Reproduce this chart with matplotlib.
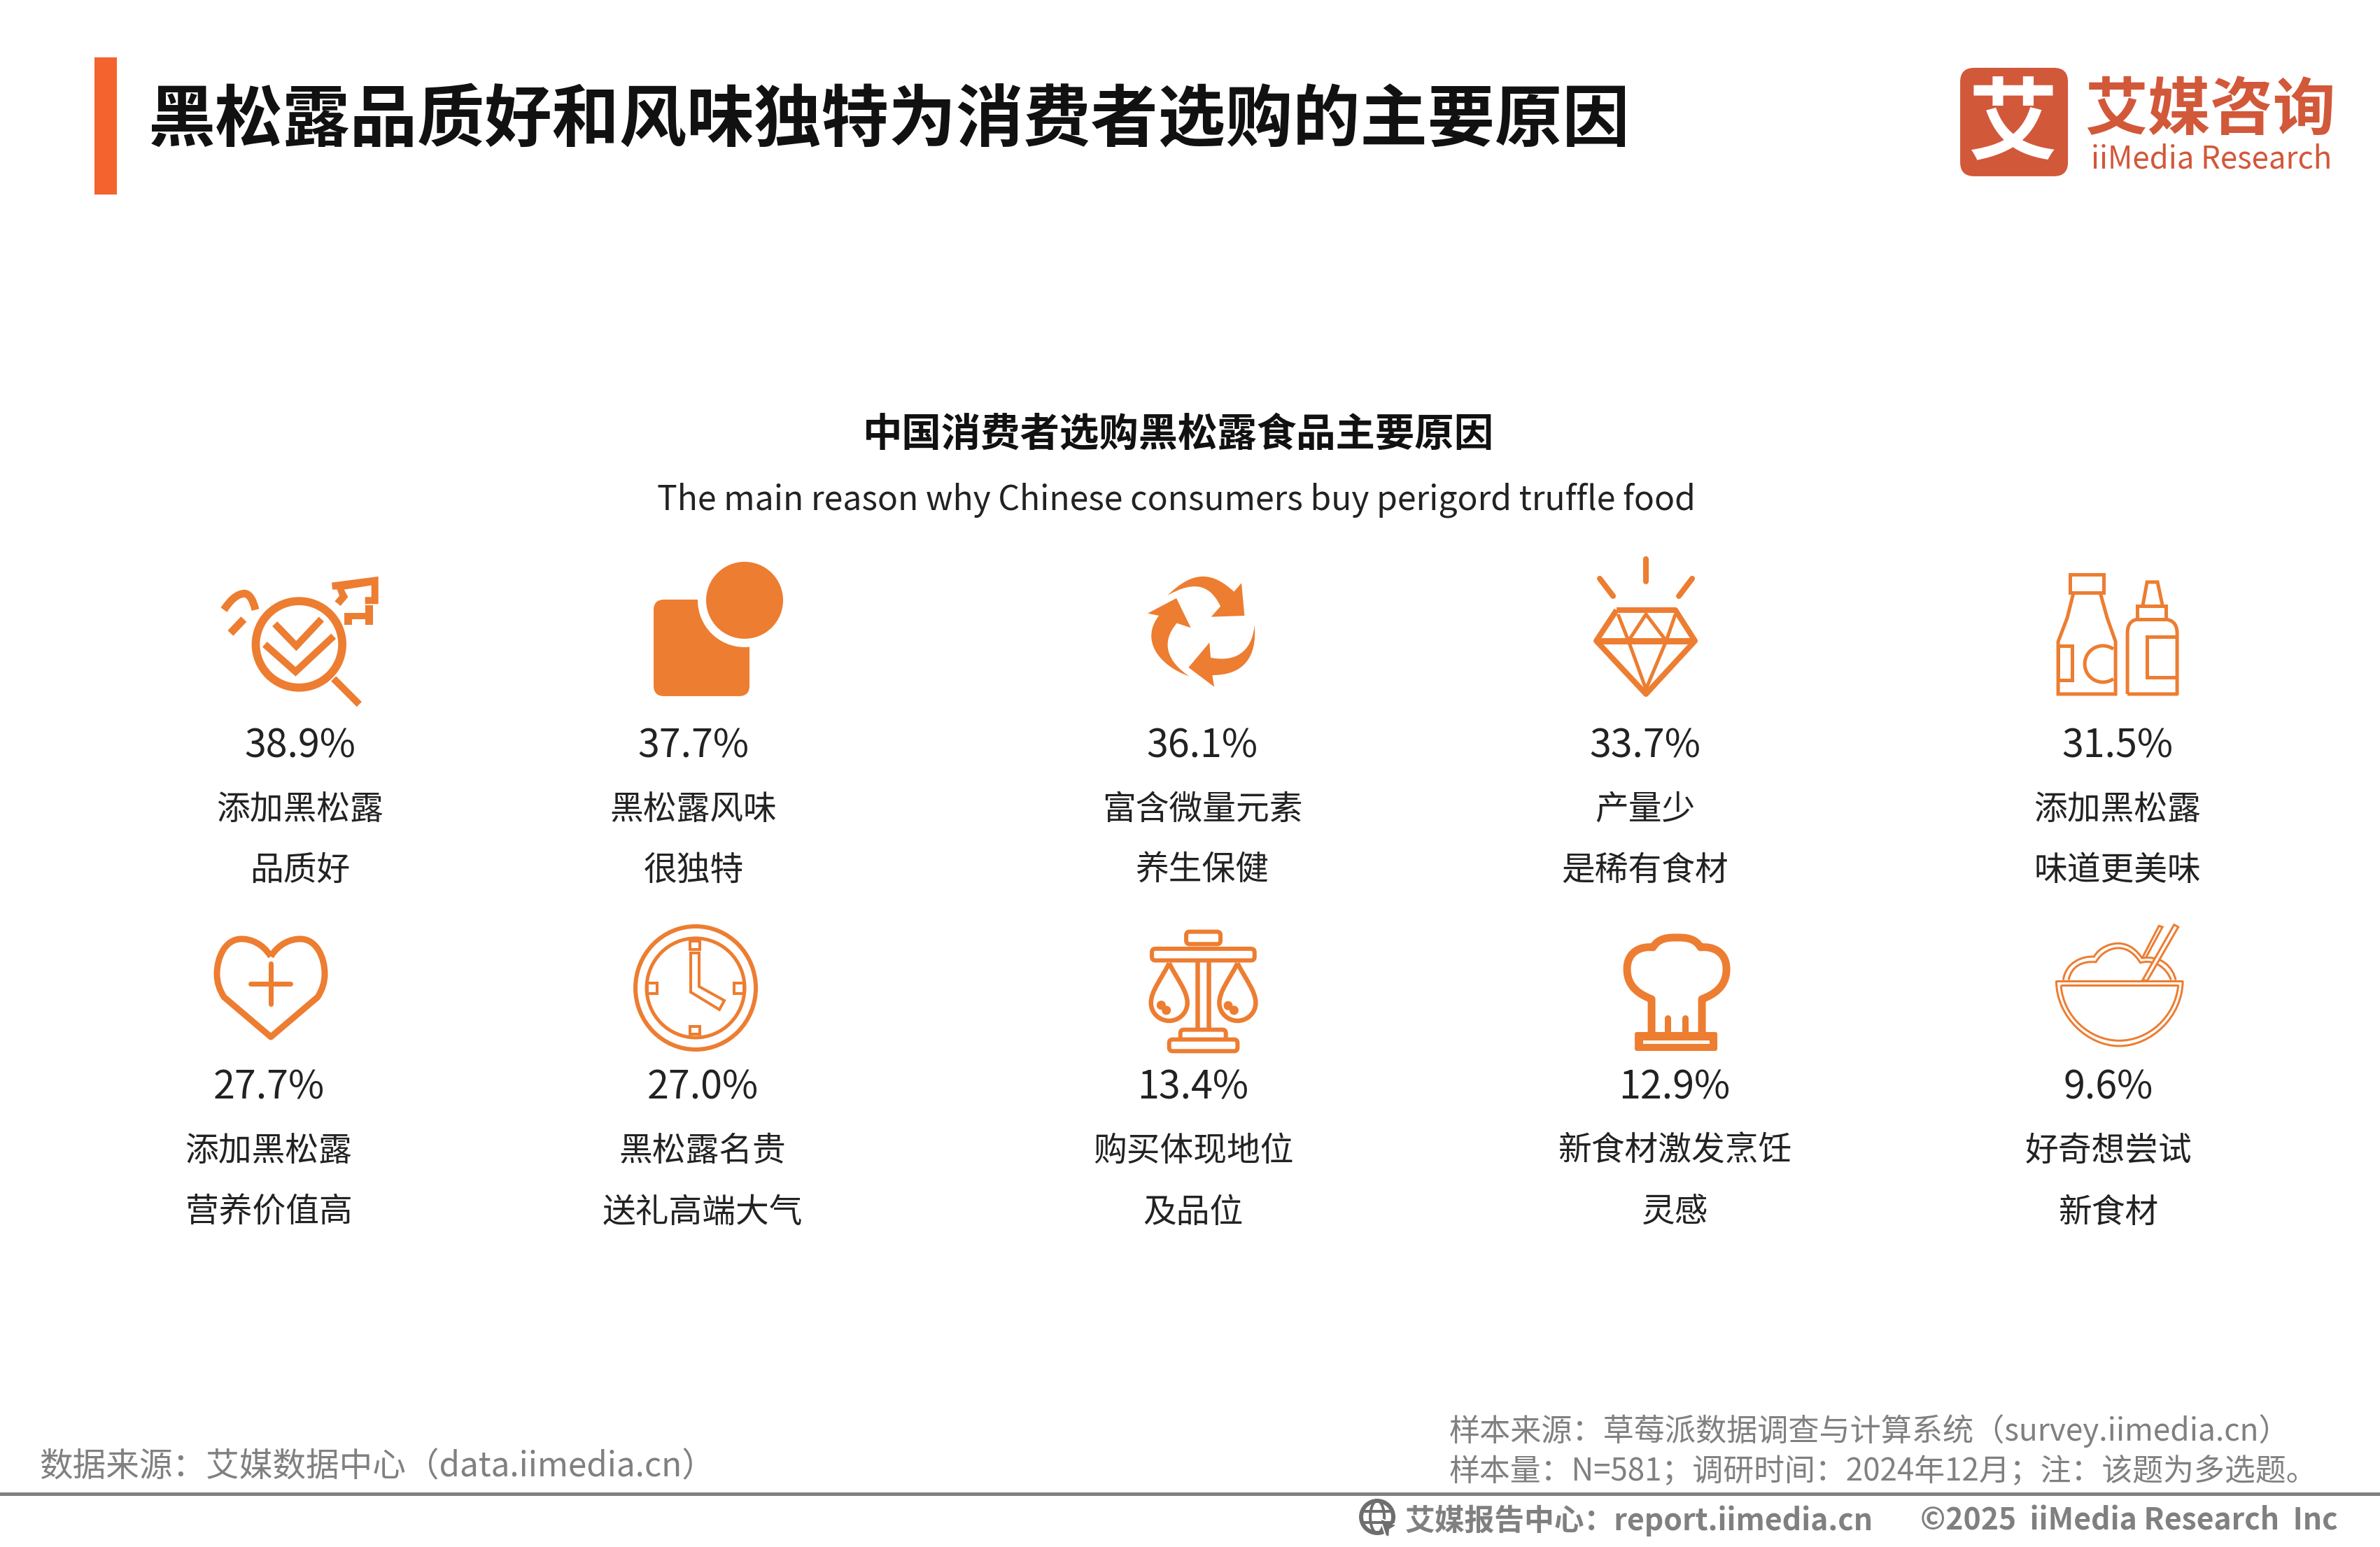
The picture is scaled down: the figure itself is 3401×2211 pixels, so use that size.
import matplotlib
matplotlib.use("Agg")
import matplotlib.pyplot as plt
from matplotlib.patches import Circle, Ellipse, Arc, FancyBboxPatch, PathPatch, Polygon, Rectangle
from matplotlib.path import Path

# chart values
title = "黑松露品质好和风味独特为消费者选购的主要原因"
chart_title = "中国消费者选购黑松露食品主要原因"
chart_subtitle = "The main reason why Chinese consumers buy perigord truffle food"

shares_top = [38.9, 37.7, 36.1, 33.7, 31.5]
labels_top_a = ["添加黑松露", "黑松露风味", "富含微量元素", "产量少", "添加黑松露"]
labels_top_b = ["品质好", "很独特", "养生保健", "是稀有食材", "味道更美味"]

shares_bottom = [27.7, 27.0, 13.4, 12.9, 9.6]
labels_bottom_a = ["添加黑松露", "黑松露名贵", "购买体现地位", "新食材激发烹饪", "好奇想尝试"]
labels_bottom_b = ["营养价值高", "送礼高端大气", "及品位", "灵感", "新食材"]

source_left = "数据来源：艾媒数据中心（data.iimedia.cn）"
source_right_1 = "样本来源：草莓派数据调查与计算系统（survey.iimedia.cn）"
source_right_2 = "样本量：N=581；调研时间：2024年12月；注：该题为多选题。"
footer_a = "艾媒报告中心：report.iimedia.cn"
footer_b = "©2025  iiMedia Research  Inc"

# layout
W, H = 3401, 2211
ORANGE = "#ED7D31"
LOGO = "#D2583A"
GREY = "#808080"
x_top = [429, 991, 1718, 2351, 3026]
x_bottom = [384, 1004, 1705, 2393, 3013]

plt.rcParams["font.family"] = ["Noto Sans CJK SC", "DejaVu Sans"]

fig = plt.figure(figsize=((W + 0.1) / 100, (H + 0.1) / 100), dpi=100)
ax = fig.add_axes([0, 0, 1, 1])
ax.set_xlim(0, W)
ax.set_ylim(H, 0)
ax.axis("off")


def lw(px):
    return px * 0.72


def line(pts, width=10, color=ORANGE, cap="butt", join="miter"):
    ax.plot([p[0] for p in pts], [p[1] for p in pts], color=color, lw=lw(width),
            solid_capstyle=cap, solid_joinstyle=join)


def curve(pts, codes, width=None, fill=False, color=ORANGE, face=None):
    # pts/codes go straight into a Path
    fc = face if face else (color if fill else "none")
    ax.add_patch(PathPatch(Path(pts, codes), fc=fc, ec=color if width else "none",
                           lw=lw(width) if width else 0, joinstyle="round"))


def rbox(x0, y0, x1, y1, r=6, width=6, fill="white"):
    ax.add_patch(FancyBboxPatch((x0, y0), x1 - x0, y1 - y0,
                                boxstyle=f"round,pad=0,rounding_size={r}",
                                fc=fill, ec=ORANGE, lw=lw(width)))


def zoomed(x0, y0, sx=3, sy=3):
    return lambda pts: [(x0 + p[0] / sx, y0 + p[1] / sy) for p in pts]


M, L, C3, C4, Z = Path.MOVETO, Path.LINETO, Path.CURVE3, Path.CURVE4, Path.CLOSEPOLY


# header
ax.add_patch(Rectangle((135, 82), 32, 196, fc="#F4622E", ec="none"))
ax.text(212, 173, title, fontsize=69.3, fontweight="bold", color="#111111", va="center", ha="left")

# logo
ax.add_patch(FancyBboxPatch((2801, 97), 154, 155, boxstyle="round,pad=0,rounding_size=20", fc=LOGO, ec="none"))
ax.text(2876, 181, "艾", fontsize=92, fontweight="bold", color="white", ha="center", va="center")
ax.text(3158, 158, "艾媒咨询", fontsize=64.5, fontweight="bold", color=LOGO, ha="center", va="center")
ax.text(3160, 227, "iiMedia Research", fontsize=31.5, fontweight="medium", color=LOGO, ha="center", va="center")

# chart heading
ax.text(1683, 622, chart_title, fontsize=40.6, fontweight="bold", color="#111111", ha="center", va="center")
ax.text(1681, 715, chart_subtitle, fontsize=34.6, color="#222222", ha="center", va="center")

# values and labels
for i in range(5):
    ax.text(x_top[i], 1067, f"{shares_top[i]}%", fontsize=40, color="#222222", ha="center", va="center")
    ax.text(x_top[i], 1157, labels_top_a[i], fontsize=34.4, color="#222222", ha="center", va="center")
    ax.text(x_top[i], 1244, labels_top_b[i], fontsize=34.4, color="#222222", ha="center", va="center")
    ax.text(x_bottom[i], 1555, f"{shares_bottom[i]}%", fontsize=40, color="#222222", ha="center", va="center")
    ax.text(x_bottom[i], 1645, labels_bottom_a[i], fontsize=34.4, color="#222222", ha="center", va="center")
    ax.text(x_bottom[i], 1733, labels_bottom_b[i], fontsize=34.4, color="#222222", ha="center", va="center")

# icon 1: magnifier and key
z = zoomed(300, 810)
ax.add_patch(Circle((427.3, 921), 61.8, fc="none", ec=ORANGE, lw=lw(11.7)))
line(z([(530, 480), (640, 590)]), 10)
line(z([(278, 245), (370, 340), (478, 225)]), 10)
line(z([(235, 333), (367, 450), (530, 298)]), 10)
curve(z([(60, 185), (105, 115), (150, 115), (180, 120), (195, 185)]), [M, C3, C3, C3, C3], width=11)
line(z([(88, 285), (145, 225)]), 11)
ax.add_patch(Polygon(z([(522, 68), (722, 42), (722, 160), (665, 160), (665, 130), (692, 130), (692, 80),
                        (575, 98), (592, 130), (560, 168), (535, 148), (555, 125), (545, 98), (525, 98)]),
                     fc=ORANGE, ec="none"))
ax.add_patch(Polygon(z([(577, 197), (665, 197), (665, 165), (698, 165), (698, 248), (665, 248), (665, 225),
                        (610, 225), (610, 248), (577, 248)]), fc=ORANGE, ec="none"))

# icon 2: square and circle
ax.add_patch(FancyBboxPatch((934, 857), 137, 138, boxstyle="round,pad=0,rounding_size=15", fc=ORANGE, ec="none"))
ax.add_patch(Circle((1064, 858), 67, fc="white", ec="none"))
ax.add_patch(Circle((1064, 858), 55, fc=ORANGE, ec="none"))

# icon 3: recycling arrows
z = zoomed(1620, 800)
curve(z([(145, 153), (260, 40), (340, 55), (430, 137), (462, 100), (475, 240), (332, 245), (372, 200),
         (320, 90), (240, 100), (145, 153), (145, 153)]),
      [M, C4, C4, C4, L, L, L, L, C4, C4, C4, Z], fill=True)
curve(z([(518, 280), (530, 420), (470, 495), (337, 495), (345, 545), (235, 462), (325, 355), (330, 420),
         (460, 445), (510, 370), (518, 280), (518, 280)]),
      [M, C4, C4, C4, L, L, L, L, C4, C4, C4, Z], fill=True)
curve(z([(238, 500), (100, 450), (30, 340), (108, 240), (60, 230), (183, 165), (245, 292), (185, 272),
         (110, 360), (150, 440), (238, 500), (238, 500)]),
      [M, C4, C4, C4, L, L, L, L, C4, C4, C4, Z], fill=True)

# icon 4: diamond
line([(2352, 799), (2352, 831)], 8, cap="round")
line([(2286, 827), (2305, 852)], 8, cap="round")
line([(2418, 827), (2399, 852)], 8, cap="round")
line([(2310, 872), (2394, 872), (2422, 916), (2352, 992), (2281, 916), (2310, 872)], 8, join="round")
line([(2281, 916), (2422, 916)], 9)
line([(2312, 878), (2327, 916), (2352, 878), (2381, 916), (2394, 878)], 5)
line([(2327, 916), (2352, 985), (2381, 916)], 5)

# icon 5: bottles
line([(2963, 847), (2954, 883), (2941, 917), (2941, 992), (3023, 992), (3023, 917), (3011, 883), (3001, 847)], 5)
ax.add_patch(Rectangle((2958, 821), 48, 26, fc="white", ec=ORANGE, lw=lw(5)))
ax.add_patch(Rectangle((2941, 923), 20, 49, fc="white", ec=ORANGE, lw=lw(5)))
ax.add_patch(Arc((3005, 949), 52, 52, theta1=55, theta2=305, ec=ORANGE, lw=lw(5)))
curve([(3040, 992), (3040, 905), (3040, 885), (3058, 885), (3091, 885), (3111, 885), (3111, 905),
       (3111, 992), (3040, 992)], [M, L, C3, C3, L, C3, C3, L, L], width=5)
ax.add_patch(Rectangle((3054, 866), 41, 19, fc="white", ec=ORANGE, lw=lw(5)))
line([(3062, 865), (3068, 832), (3083, 832), (3090, 865)], 5)
line([(3111, 910), (3068, 910), (3068, 968), (3111, 968)], 5)

# icon 6: heart
curve([(387, 1367), (375, 1348), (358, 1342), (345, 1342), (322, 1342), (310, 1368), (310, 1392),
       (310, 1405), (314, 1415), (320, 1425), (387, 1482), (454, 1425),
       (460, 1415), (464, 1405), (464, 1392), (464, 1368), (452, 1342), (429, 1342),
       (416, 1342), (399, 1348), (387, 1367)],
      [M] + [C4] * 9 + [L, L] + [C4] * 9, width=9)
line([(387, 1377), (387, 1435)], 7, cap="round")
line([(358, 1406), (415, 1406)], 7, cap="round")

# icon 7: clock
ax.add_patch(Ellipse((994, 1412), 172, 176, fc="none", ec=ORANGE, lw=lw(6)))
ax.add_patch(Ellipse((994, 1412), 140, 142, fc="none", ec=ORANGE, lw=lw(5)))
ax.add_patch(Polygon([(987, 1362), (999, 1362), (999, 1410), (1035, 1430), (1028, 1443), (987, 1418)],
                     fc="none", ec=ORANGE, lw=lw(4)))
for box in [(986, 1345, 14, 12), (986, 1467, 14, 11), (925, 1405, 14, 15), (1049, 1405, 14, 15)]:
    ax.add_patch(Rectangle(box[:2], box[2], box[3], fc="none", ec=ORANGE, lw=lw(4)))

# icon 8: scales
z = zoomed(1620, 1320)
(a, b), (c, d) = z([(225, 35), (372, 88)])
rbox(a, b, c, d, 5)
(a, b), (c, d) = z([(78, 108), (518, 158)])
rbox(a, b, c, d, 5)
line(z([(272, 158), (272, 450)]), 6.5)
line(z([(322, 158), (322, 450)]), 6.5)
(a, b), (c, d) = z([(200, 455), (395, 510)])
rbox(a, b, c, d, 5)
(a, b), (c, d) = z([(152, 497), (445, 547)])
rbox(a, b, c, d, 5)
for cx, beans in [(152, [(118, 350), (140, 372)]), (445, [(405, 352), (430, 372)])]:
    curve(z([(cx, 170), (cx - 35, 240), (cx - 78, 290), (cx - 78, 340), (cx - 78, 385), (cx - 40, 417), (cx, 417),
             (cx + 40, 417), (cx + 78, 385), (cx + 78, 340), (cx + 78, 290), (cx + 35, 240), (cx, 170)]),
          [M] + [C4] * 12, width=6.5)
    for p in z(beans):
        ax.add_patch(Circle(p, 6.5, fc=ORANGE, ec="none"))

# icon 9: chef hat
curve([(2360, 1478), (2360, 1428), (2345, 1422), (2325, 1412), (2325, 1385), (2325, 1360), (2345, 1352), (2362, 1354),
       (2370, 1340), (2385, 1340), (2396, 1340), (2407, 1340), (2422, 1340), (2430, 1354), (2447, 1352), (2467, 1360),
       (2467, 1385), (2467, 1412), (2447, 1422), (2432, 1428), (2432, 1478)],
      [M, L] + [C4] * 18 + [L], width=11)
line([(2383, 1455), (2383, 1478)], 9, cap="round")
line([(2408, 1455), (2408, 1478)], 9, cap="round")
ax.add_patch(FancyBboxPatch((2336, 1475), 118, 27, boxstyle="round,pad=0,rounding_size=3", fc=ORANGE, ec="none"))
ax.add_patch(Rectangle((2348, 1487), 95, 5, fc="#FFF4EA", ec="none"))

# icon 10: rice bowl
z = zoomed(2920, 1310)
line(z([(55, 275), (597, 275)]), 3)
line(z([(75, 295), (578, 295)]), 3)
curve(z([(55, 275), (55, 430), (190, 555), (325, 555), (460, 555), (597, 430), (597, 275)]), [M] + [C4] * 6, width=3)
curve(z([(75, 295), (85, 430), (200, 532), (325, 532), (450, 532), (565, 430), (578, 295)]), [M] + [C4] * 6, width=3)
curve(z([(85, 272), (95, 195), (170, 168), (217, 172), (240, 130), (290, 115), (320, 115), (370, 115), (405, 150),
         (422, 178), (510, 165), (555, 220), (567, 272)]), [M] + [C4] * 12, width=3)
curve(z([(108, 272), (120, 210), (170, 190), (225, 195), (250, 150), (295, 135), (320, 135), (365, 135), (395, 165),
         (415, 198), (480, 180), (530, 225), (547, 272)]), [M] + [C4] * 12, width=3)
ax.add_patch(Polygon(z([(445, 275), (578, 45), (560, 35), (425, 272)]), fc="white", ec=ORANGE, lw=lw(3)))
line(z([(425, 175), (495, 40), (510, 45), (438, 178)]), 3)

# footer
ax.text(56, 2097, source_left, fontsize=34.3, color=GREY, ha="left", va="center")
ax.text(2071, 2045, source_right_1, fontsize=31.8, color=GREY, ha="left", va="center")
ax.text(2071, 2102, source_right_2, fontsize=31.6, color=GREY, ha="left", va="center")
ax.add_patch(Rectangle((0, 2133), W, 5, fc=GREY, ec="none"))
ax.text(2008, 2173, footer_a, fontsize=30.8, fontweight="bold", color=GREY, ha="left", va="center")
ax.text(2744, 2173, footer_b, fontsize=30.8, fontweight="bold", color=GREY, ha="left", va="center")

# globe with cursor
ax.add_patch(Ellipse((1968, 2168), 46, 46, fc="none", ec="#6E6E6E", lw=lw(6)))
ax.add_patch(Ellipse((1968, 2168), 20, 46, fc="none", ec="#6E6E6E", lw=lw(4)))
line([(1945, 2160), (1991, 2160)], 4, color="#6E6E6E")
line([(1945, 2176), (1991, 2176)], 4, color="#6E6E6E")
ax.add_patch(Polygon([(1972, 2170), (1996, 2180), (1986, 2186), (1985, 2197), (1980, 2195)], fc="#6E6E6E", ec="white", lw=lw(2)))

fig.savefig("out.png", dpi=100)
